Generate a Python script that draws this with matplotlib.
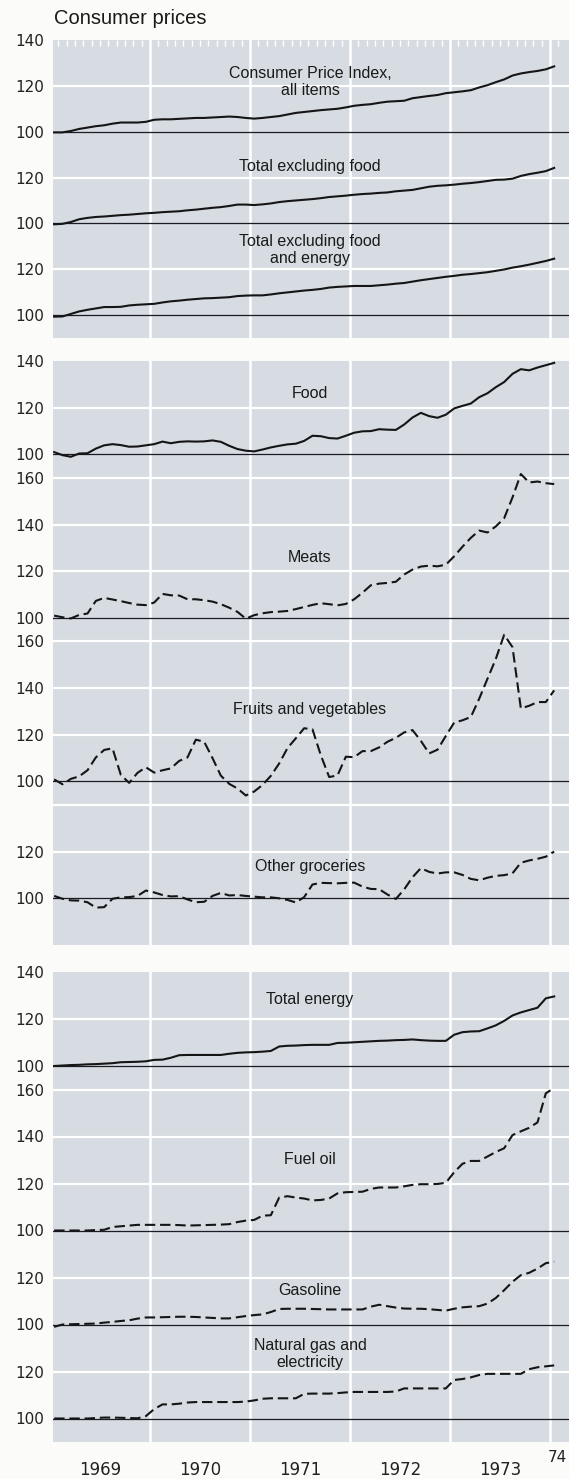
import numpy as np
import matplotlib.pyplot as plt

# monthly index values, Jan 1969 - Jan 1974
months = np.arange(61)
t = 1969 + (months + 0.5) / 12

cpi_all = [99.7, 99.7, 100.3, 101.2, 101.8, 102.4, 102.8, 103.5, 104.0, 104.0, 104.0, 104.3,
           105.2, 105.4, 105.4, 105.6, 105.8, 106.0, 106.0, 106.2, 106.4, 106.6, 106.4, 106.0,
           105.7, 106.0, 106.4, 106.8, 107.5, 108.2, 108.6, 109.0, 109.4, 109.7, 110.0, 110.6,
           111.3, 111.7, 112.0, 112.6, 113.1, 113.3, 113.5, 114.6, 115.1, 115.6, 116.0, 116.8,
           117.2, 117.6, 118.1, 119.3, 120.3, 121.6, 122.8, 124.5, 125.4, 126.0, 126.5, 127.2, 128.5]
excl_food = [99.6, 99.8, 100.6, 101.8, 102.4, 102.8, 103.0, 103.3, 103.6, 103.8, 104.1, 104.4,
             104.6, 104.9, 105.1, 105.3, 105.7, 106.0, 106.4, 106.8, 107.1, 107.6, 108.2, 108.2,
             108.0, 108.3, 108.7, 109.3, 109.7, 110.0, 110.3, 110.6, 111.0, 111.5, 111.8, 112.1,
             112.5, 112.8, 113.0, 113.3, 113.5, 114.0, 114.3, 114.6, 115.3, 116.0, 116.4, 116.6,
             116.9, 117.3, 117.6, 118.0, 118.5, 119.0, 119.1, 119.5, 120.7, 121.5, 122.1, 122.8, 124.2]
excl_food_energy = [99.3, 99.4, 100.5, 101.6, 102.3, 102.9, 103.5, 103.5, 103.6, 104.2, 104.5, 104.7,
                    104.9, 105.5, 106.0, 106.3, 106.7, 107.0, 107.3, 107.4, 107.6, 107.8, 108.3, 108.5,
                    108.6, 108.6, 109.0, 109.5, 109.9, 110.3, 110.7, 111.0, 111.4, 112.0, 112.3, 112.5,
                    112.7, 112.7, 112.7, 113.0, 113.3, 113.7, 114.0, 114.6, 115.2, 115.7, 116.2, 116.7,
                    117.1, 117.6, 117.9, 118.3, 118.7, 119.3, 119.9, 120.7, 121.3, 122.0, 122.8, 123.6, 124.6]

food = [101.0, 99.7, 99.0, 100.4, 100.5, 102.5, 103.9, 104.4, 104.0, 103.3, 103.4, 103.9,
        104.4, 105.5, 104.8, 105.4, 105.6, 105.5, 105.6, 106.0, 105.4, 103.7, 102.3, 101.6,
        101.3, 102.1, 103.0, 103.7, 104.3, 104.6, 105.8, 108.0, 107.8, 107.0, 106.8, 108.0,
        109.3, 109.9, 110.0, 110.8, 110.6, 110.5, 112.8, 115.8, 117.8, 116.4, 115.7, 117.0,
        119.7, 120.8, 121.8, 124.5, 126.2, 128.8, 131.0, 134.5, 136.5, 136.0, 137.2, 138.2, 139.2]
meats = [101.0, 100.3, 99.8, 101.3, 101.9, 107.3, 108.6, 107.9, 107.2, 106.4, 105.7, 105.5,
         106.6, 110.3, 109.7, 109.6, 108.0, 108.0, 107.6, 107.0, 105.9, 104.4, 102.6, 99.7,
         101.2, 102.0, 102.5, 102.7, 103.0, 103.8, 104.7, 105.6, 106.3, 105.9, 105.4, 106.0,
         108.0, 110.8, 114.0, 114.7, 115.0, 115.5, 118.6, 120.7, 122.0, 122.4, 122.1, 122.8,
         126.4, 130.5, 134.3, 137.4, 136.6, 139.2, 142.7, 151.6, 161.6, 158.0, 158.4, 157.7, 157.3]
fruits_veg = [100.9, 98.8, 101.1, 102.2, 104.8, 110.3, 113.5, 114.2, 102.8, 99.4, 103.7, 106.1,
              103.8, 104.8, 105.6, 108.8, 110.3, 117.9, 117.0, 110.0, 102.5, 99.0, 97.0, 94.0,
              95.7, 98.5, 102.4, 107.7, 114.3, 118.5, 122.8, 122.3, 111.2, 101.9, 102.6, 110.6,
              110.4, 113.0, 113.0, 114.6, 117.0, 118.7, 121.0, 122.0, 117.4, 112.0, 113.6, 119.5,
              125.2, 126.2, 127.6, 135.4, 144.0, 152.5, 162.8, 157.5, 131.3, 132.4, 134.0, 134.0, 139.0]
other_groceries = [101.0, 99.8, 99.1, 99.0, 98.3, 96.0, 96.2, 99.8, 100.4, 100.5, 101.0, 103.3,
                   102.5, 101.4, 100.8, 100.9, 99.5, 98.3, 98.5, 101.0, 102.3, 101.2, 101.4, 101.0,
                   100.7, 100.4, 100.4, 100.0, 99.3, 98.2, 100.5, 105.9, 106.6, 106.5, 106.4, 106.6,
                   106.7, 105.0, 104.0, 103.9, 101.6, 99.7, 103.8, 109.0, 112.9, 111.3, 110.6, 111.1,
                   111.1, 110.0, 108.3, 107.7, 108.8, 109.6, 109.9, 110.7, 115.2, 116.2, 116.9, 117.8, 120.0]

total_energy = [100.0, 100.2, 100.4, 100.5, 100.7, 100.8, 101.0, 101.2, 101.6, 101.7, 101.8, 102.0,
                102.6, 102.7, 103.5, 104.6, 104.7, 104.7, 104.7, 104.7, 104.7, 105.2, 105.6, 105.8,
                105.9, 106.1, 106.4, 108.3, 108.6, 108.7, 108.9, 109.0, 109.0, 109.0, 109.8, 109.9,
                110.1, 110.3, 110.5, 110.7, 110.8, 111.0, 111.1, 111.3, 111.0, 110.8, 110.7, 110.7,
                113.3, 114.4, 114.7, 114.8, 116.0, 117.3, 119.2, 121.5, 122.8, 123.8, 124.8, 128.8, 129.6]
fuel_oil = [100.0, 100.0, 100.0, 100.0, 100.0, 100.2, 100.3, 101.5, 101.8, 102.1, 102.4, 102.4,
            102.4, 102.4, 102.4, 102.3, 102.1, 102.2, 102.3, 102.4, 102.5, 102.7, 103.6, 104.2,
            104.5, 106.3, 106.5, 114.0, 114.6, 114.0, 113.6, 112.8, 113.0, 113.6, 115.8, 116.3,
            116.4, 116.5, 117.7, 118.3, 118.3, 118.3, 118.8, 119.4, 119.7, 119.7, 119.8, 120.3,
            124.8, 128.4, 129.6, 129.6, 131.5, 133.4, 135.0, 140.6, 142.2, 143.7, 146.0, 158.4, 160.6]
gasoline = [99.0, 100.0, 100.1, 100.2, 100.3, 100.4, 100.8, 101.1, 101.5, 101.8, 102.5, 103.0,
            103.0, 103.1, 103.2, 103.3, 103.3, 103.2, 103.0, 102.8, 102.6, 102.6, 103.1, 103.6,
            104.0, 104.3, 105.3, 106.6, 106.7, 106.7, 106.7, 106.6, 106.5, 106.4, 106.4, 106.4,
            106.4, 106.4, 107.6, 108.4, 107.8, 107.2, 106.8, 106.7, 106.7, 106.5, 106.2, 105.9,
            106.7, 107.3, 107.6, 107.8, 108.9, 111.3, 114.6, 118.2, 121.0, 122.0, 123.8, 126.1, 126.7]
gas_electricity = [100.0, 100.0, 100.0, 100.0, 100.0, 100.2, 100.4, 100.4, 100.3, 100.2, 100.1, 101.0,
                   104.0, 106.0, 106.0, 106.3, 106.8, 107.0, 107.0, 107.0, 107.0, 107.0, 107.0, 107.2,
                   107.7, 108.4, 108.6, 108.6, 108.6, 108.6, 110.5, 110.6, 110.6, 110.6, 110.8, 111.1,
                   111.3, 111.3, 111.3, 111.3, 111.3, 111.5, 112.8, 112.8, 112.8, 112.8, 112.8, 112.8,
                   116.4, 116.8, 117.5, 118.5, 119.0, 119.0, 119.0, 119.0, 119.0, 121.0, 121.8, 122.2, 122.6]

year_labels = ['1969', '1970', '1971', '1972', '1973']

W, H = 569, 1479
fig = plt.figure(figsize=(W / 100, H / 100), dpi=100)
fig.patch.set_facecolor('#fbfbfa')

BG = '#d6dce1'
INK = '#151515'
XL = (1969.03, 1974.19)
label_x = 1971.6
dashed = (0, (5, 2.3))


def px_rect(top, bottom, left=53, right=569):
  return [left / W, 1 - bottom / H, (right - left) / W, (bottom - top) / H]


# (rect, ylim, tick positions, tick labels, white gridlines, baselines, series)
# series: (values, offset, linestyle, label, label y)
panels = [
  (px_rect(40, 338), (10, 140),
   [140, 120, 100, 80, 60, 40, 20],
   ['140', '120', '100', '120', '100', '120', '100'],
   [120, 80, 40], [100, 60, 20],
   [(cpi_all, 0, '-', 'Consumer Price Index,\nall items', 121.7),
    (excl_food, -40, '-', 'Total excluding food', 85.0),
    (excl_food_energy, -80, '-', 'Total excluding food\nand energy', 48.4)]),
  (px_rect(361, 945), (-110, 140),
   [140, 120, 100, 90, 70, 50, 30, 20, 0, -20, -40, -70, -90],
   ['140', '120', '100', '160', '140', '120', '100', '160', '140', '120', '100', '120', '100'],
   [120, 90, 70, 50, 20, 0, -20, -50, -70], [100, 30, -40, -90],
   [(food, 0, '-', 'Food', 125.9),
    (meats, -70, dashed, 'Meats', 55.7),
    (fruits_veg, -140, dashed, 'Fruits and vegetables', -9.0),
    (other_groceries, -190, dashed, 'Other groceries', -76.2)]),
  (px_rect(972, 1442), (-60, 140),
   [140, 120, 100, 90, 70, 50, 30, 10, -10, -30, -50],
   ['140', '120', '100', '160', '140', '120', '100', '120', '100', '120', '100'],
   [120, 90, 70, 50, 10, -30], [100, 30, -10, -50],
   [(total_energy, 0, '-', 'Total energy', 128.5),
    (fuel_oil, -70, dashed, 'Fuel oil', 60.0),
    (gasoline, -110, dashed, 'Gasoline', 4.3),
    (gas_electricity, -150, dashed, 'Natural gas and\nelectricity', -22.6)]),
]

axes = []
for rect, ylim, ticks, tlabels, grid, bases, series in panels:
  ax = fig.add_axes(rect)
  ax.set_facecolor(BG)
  ax.set_xlim(*XL)
  ax.set_ylim(*ylim)
  for s in ax.spines.values():
    s.set_visible(False)
  for yr in range(1970, 1975):
    ax.axvline(yr, color='white', lw=1.8, zorder=1)
  for g in grid:
    ax.axhline(g, color='white', lw=1.6, zorder=1)
  for b in bases:
    ax.axhline(b, color='#1b1b28', lw=0.9, zorder=2)
  for vals, off, ls, name, ly in series:
    ax.plot(t, np.array(vals) + off, color=INK, lw=1.5, linestyle=ls, zorder=3)
    ax.text(label_x, ly, name, ha='center', va='center', fontsize=11.5,
            family='Liberation Sans', color='#1a1a1a', linespacing=1.15, zorder=4)
  ax.set_yticks(ticks, tlabels)
  ax.tick_params(axis='y', length=0, pad=6, labelsize=11, labelcolor='#222222')
  ax.set_xticks([])
  axes.append(ax)

# small monthly notches along the top of the first panel
ax1 = axes[0]
ax1.set_xticks(1969 + np.arange(1, 62) / 12)
ax1.tick_params(axis='x', direction='in', top=True, bottom=False, length=4,
                width=1, color='white', labelbottom=False)

ax3 = axes[2]
for i, lab in enumerate(year_labels):
  ax3.text(1969.5 + i, -71.9, lab, ha='center', va='center', fontsize=12,
           color='#222222', clip_on=False)
ax3.text(1974.07, -66.8, '74', ha='center', va='center', fontsize=11,
         color='#222222', clip_on=False)

fig.text(54 / W, 1 - 24 / H, 'Consumer prices', fontsize=14.5, family='Liberation Sans',
         va='baseline', ha='left', color='#1a1a1a')

fig.savefig('out.png', dpi=100, facecolor=fig.get_facecolor())
